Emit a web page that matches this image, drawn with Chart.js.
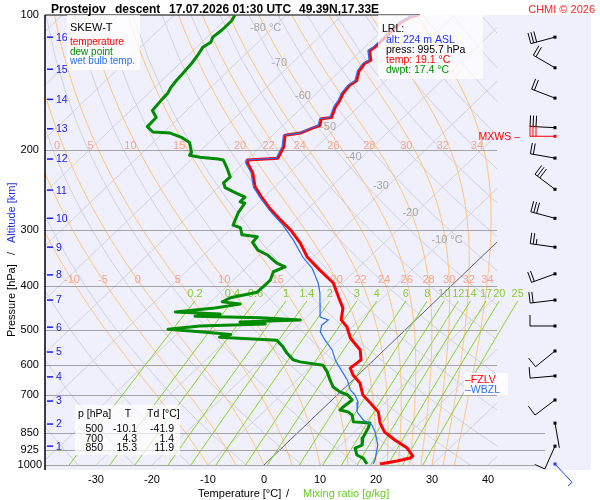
<!DOCTYPE html>
<html>
<head>
<meta charset="utf-8">
<title>Skew-T Prostejov</title>
<script src="https://cdn.jsdelivr.net/npm/chart.js@4.4.1/dist/chart.umd.min.js"></script>
<style>
body{margin:0;background:#fff;}
#wrap{width:600px;height:500px;}
</style>
</head>
<body>
<div id="wrap"><canvas id="myChart" width="600" height="500"></canvas></div>
<script>
// posun izoterm: stupne C na jednu dekadu tlaku
var SKEW = 84;
var FONT = '"Liberation Sans", Arial, Helvetica, sans-serif';

// teplota
var tempP = [100,101,104,114,118,120,126,128,133,140,143,149,155,160,169,170,176,178,183,185,196,208,210,213,224,241,255,269,285,300,321,345,369,394,423,448,476,494,522,555,584,609,631,657,699,728,762,807,845,880,917,955,965,980,995];
var tempT = [-56.5,-57.5,-58.2,-58.2,-58.2,-58.5,-56.5,-57.0,-56.6,-55.2,-55.6,-55.3,-54.5,-54.1,-52.8,-54.4,-53.4,-54.1,-55.5,-57.8,-55.9,-54.8,-59.8,-59.4,-56.6,-53.5,-50.2,-46.9,-42.9,-39.2,-35.0,-31.1,-26.4,-21.6,-18.1,-15.2,-13.3,-10.9,-8.3,-4.3,-2.3,-2.7,-0.9,1.8,4.6,7.4,10.5,12.9,15.4,18.7,22.4,24.9,24.8,23.0,20.5];

// rosny bod
var dewP = [100,103,108,112,115,118,123,128,135,140,145,149,153,163,169,177,182,183,187,192,202,205,207,209,210,219,229,236,242,249,254,260,262,275,293,297,308,311,320,333,341,356,363,372,388,402,413,425,434,439,448,457,462,467,471,476,481,486,491,499,506,513,520,528,547,564,584,590,600,621,647,671,688,699,717,743,755,762,774,802,807,828,871,903,917,950,965,995];
var dewT = [-89.2,-88.7,-88.7,-89.0,-88.4,-88.9,-88.3,-87.9,-87.6,-87.4,-87.1,-86.6,-86.5,-86.1,-84.1,-84.0,-82.0,-78.7,-75.9,-73.5,-71.3,-71.1,-68.9,-65.3,-64.2,-62.0,-59.8,-59.9,-58.7,-55.6,-53.4,-53.4,-52.3,-51.7,-50.3,-48.5,-46.9,-43.8,-43.6,-41.2,-38.7,-35.4,-33.2,-34.4,-33.4,-33.4,-33.5,-37.2,-37.9,-34.3,-38.1,-44.4,-36.0,-40.1,-28.1,-20.6,-31.0,-26.1,-37.4,-42.5,-36.3,-30.3,-31.8,-21.0,-18.6,-16.8,-14.4,-12.8,-8.1,-6.1,-4.1,-2.2,-0.1,1.9,3.6,3.3,3.3,5.1,6.4,7.9,11.1,11.7,12.6,13.8,13.1,14.7,16.4,18.2];

// vlhky teplomer
var wetP = [100,101,104,114,118,120,126,128,133,140,143,149,155,160,169,170,176,178,183,185,196,208,210,213,224,241,255,274,293,316,345,365,394,415,437,469,476,489,506,528,555,584,600,621,647,681,699,724,762,794,815,845,903,940,975,995];
var wetT = [-56.8,-57.8,-58.5,-58.5,-58.5,-58.8,-56.8,-57.3,-56.9,-55.5,-55.9,-55.6,-54.8,-54.4,-53.1,-54.7,-53.7,-54.4,-55.8,-58.1,-56.2,-55.1,-60.1,-59.7,-56.9,-53.8,-50.5,-46.0,-41.4,-36.8,-31.9,-28.2,-24.3,-22.1,-20.2,-17.6,-15.6,-15.8,-14.8,-12.4,-9.3,-6.9,-5.4,-3.4,-1.0,1.4,3.2,5.0,6.7,9.3,11.8,13.7,16.6,17.8,18.9,19.3];

// osy
var tickT = [-30,-20,-10,0,10,20,30,40];
var tickP = [100,200,300,400,500,600,700,850,925,1000];
var kmAlt = [1,2,3,4,5,6,7,8,9,10,11,12,13,14,15,16];
var kmP = [908,811,721,637,561,494,430,378,328,283,245,209,179,154,132,112];

// popisky izoterm
var isoLabelT = [-80,-70,-60,-50,-40,-30,-20,-10];
var isoLabelP = [107,128,151,177,207,240,275,316];
var isoLabelTxt = ['-80 \u00B0C','-70','-60','-50','-40','-30','-20','-10 \u00B0C'];

// vlhke adiabaty a smesovaci pomer
var thetaW = [-10,-5,0,5,10,15,20,22,24,26,28,30,32,34];
var thetaRowP = [195,388];
var mixR = [0.2,0.4,0.6,1,1.4,2,3,4,6,8,10,12,14,17,20,25];
var mixTopP = 432;

// vitr
var windP = [112,131,153,178,208,244,283,328,376,430,491,558,634,717,807,908];
var windDir = [255,300,291,273,280,307,285,278,250,263,270,231,265,233,170,204];
var windSpd = [30,20,20,30,20,30,30,25,20,20,10,10,10,10,3,10];
var mxwsP = 186, mxwsDir = 270, mxwsSpd = 30;
var sfcWindP = 995, sfcWindDir = 137, sfcWindSpd = 5;

// hladiny
var fzlvP = 644, wbzlP = 678;

// tabulka
var tabP = [500,700,850];
var tabT = ['-10.1','4.3','15.3'];
var tabTd = ['-41.9','1.4','11.9'];

// LRL
var lrlTexts = ['alt: 224 m ASL','press: 995.7 hPa','temp: 19.1 \u00B0C','dwpt: 17.4 \u00B0C'];
var lrlColors = ['#2030ff','#000000','#ff0000','#009000'];

function skewX(t, p){ return t + SKEW*Math.log10(1000/p); }
function puntos(P, T){
	var out = [];
	for(var i=0;i<P.length;i++){ out.push({x: skewX(T[i],P[i]), y: P[i]}); }
	return out;
}
function tdFromR(r, p){
	var e = (r/1000)*p/(0.622 + r/1000);
	var g = Math.log(e/6.112);
	return 243.5*g/(17.67-g);
}
function moistLapse(p, T){
	var es = 6.112*Math.exp(17.67*(T-273.15)/(T-29.65));
	var rs = 0.622*es/(p-es);
	return (287.04*T + 2.501e6*rs)/(1005.7 + 2.501e6*2.501e6*rs*0.622/(287.04*T*T))/p;
}
function moistCurve(tw, pEnd){
	var p = 1000, T = tw+273.15, out = [[p,tw]];
	while(p > pEnd+0.01){
		var dp = Math.max(-5, pEnd-p);
		var k1 = moistLapse(p,T), k2 = moistLapse(p+dp/2, T+k1*dp/2);
		T += k2*dp; p += dp;
		out.push([p, T-273.15]);
	}
	return out;
}
function drawBarb(ctx, x0, y0, dir, spd, color){
	var a = dir*Math.PI/180, ux = Math.sin(a), uy = -Math.cos(a);
	var cx = -uy, cy = ux, L = 25;
	ctx.strokeStyle = color; ctx.fillStyle = color; ctx.lineWidth = 1;
	ctx.fillRect(x0-1.5, y0-1.5, 3, 3);
	ctx.beginPath();
	ctx.moveTo(x0, y0); ctx.lineTo(x0+ux*L, y0+uy*L);
	var full = Math.floor(spd/10), half = (spd%10)>=5, d = L;
	for(var i=0;i<full;i++){
		var bx = x0+ux*d, by = y0+uy*d;
		ctx.moveTo(bx, by); ctx.lineTo(bx+11*cx, by+11*cy);
		d -= 3;
	}
	if(half){
		var hx = x0+ux*d, hy = y0+uy*d;
		ctx.moveTo(hx, hy); ctx.lineTo(hx+5.5*cx, hy+5.5*cy);
	}
	ctx.stroke();
}

var skewPlugin = {
	id: 'skewPlugin',
	beforeDraw: function(chart){
		var ctx = chart.ctx, a = chart.chartArea;
		ctx.save();
		ctx.fillStyle = '#f0f0fc';
		ctx.fillRect(a.left, a.top, 591-a.left, 470-a.top);
		ctx.restore();
	},
	beforeDatasetsDraw: function(chart){
		var ctx = chart.ctx, a = chart.chartArea, xs = chart.scales.x, ys = chart.scales.y;
		function X(t,p){ return xs.getPixelForValue(skewX(t,p)); }
		function Y(p){ return ys.getPixelForValue(p); }
		function poly(list){
			ctx.beginPath();
			for(var i=0;i<list.length;i++){
				var q = list[i];
				if(i===0) ctx.moveTo(X(q[1],q[0]), Y(q[0])); else ctx.lineTo(X(q[1],q[0]), Y(q[0]));
			}
			ctx.stroke();
		}
		ctx.save();
		ctx.beginPath(); ctx.rect(a.left, a.top, a.right-a.left, a.bottom-a.top); ctx.clip();
		ctx.lineWidth = 1;
		// izotermy
		ctx.strokeStyle = '#d2d2dc';
		for(var t=-170;t<=40;t+=10){ if(t!==0) poly([[1000,t],[100,t]]); }
		// suche adiabaty
		for(var th=200; th<=470; th+=10){
			var l = [];
			for(var p=1000;p>=100;p-=25) l.push([p, th*Math.pow(p/1000,0.2857)-273.15]);
			poly(l);
		}
		// vlhke adiabaty
		ctx.strokeStyle = '#ffc47a';
		thetaW.forEach(function(tw){ poly(moistCurve(tw,100)); });
		// nulova izoterma
		ctx.strokeStyle = '#60606c';
		poly([[1000,0],[100,0]]);
		ctx.restore();

		// smesovaci pomer
		ctx.save();
		ctx.beginPath(); ctx.rect(a.left, a.top, 600-a.left, a.bottom-a.top); ctx.clip();
		ctx.strokeStyle = '#8cd420'; ctx.lineWidth = 1;
		mixR.forEach(function(r){
			var l = [];
			for(var p=1000;p>mixTopP;p-=25) l.push([p, tdFromR(r,p)]);
			l.push([mixTopP, tdFromR(r,mixTopP)]);
			poly(l);
		});
		ctx.restore();

		// izobary
		ctx.save();
		ctx.lineWidth = 1.2;
		ctx.strokeStyle = '#a4a4a4';
		tickP.forEach(function(p){
			if(p===100) return;
			var y = Math.round(Y(p))+0.5;
			var xr = p>=1000 ? 535 : (p>=850 ? 545 : a.right);
			ctx.beginPath(); ctx.moveTo(a.left, y); ctx.lineTo(xr, y); ctx.stroke();
		});
		ctx.strokeStyle = '#000';
		ctx.beginPath(); ctx.moveTo(a.left, Y(100)); ctx.lineTo(420, Y(100)); ctx.stroke();
		ctx.lineWidth = 1.5;
		ctx.beginPath(); ctx.moveTo(a.left, a.top); ctx.lineTo(a.left, 470); ctx.stroke();
		ctx.restore();

		// popisky
		ctx.save();
		ctx.font = '11px ' + FONT;
		ctx.textBaseline = 'middle';
		ctx.fillStyle = '#a8a8a8';
		ctx.textAlign = 'left';
		var yRef = Y(isoLabelP[isoLabelP.length-1]);
		for(var i=0;i<isoLabelT.length;i++){
			var yl = Y(isoLabelP[i]);
			ctx.fillText(isoLabelTxt[i], X(isoLabelT[i], isoLabelP[i]) - 12 - 0.05*(yRef-yl), yl);
		}
		ctx.fillStyle = '#f5a48c';
		ctx.textAlign = 'center';
		thetaRowP.forEach(function(pr, ri){
			var shift = ri===0 ? -6 : 0;
			thetaW.forEach(function(tw){
				var c = moistCurve(tw, pr), last = c[c.length-1];
				var x = X(last[1], pr) + shift;
				if(x > a.left+5 && x < a.right) ctx.fillText(String(tw), x, Y(pr));
			});
		});
		ctx.fillStyle = '#88cc30';
		mixR.forEach(function(r){
			ctx.fillText(String(r), X(tdFromR(r,mixTopP), mixTopP), Y(mixTopP)-7);
		});
		// km
		ctx.fillStyle = '#1818f0';
		ctx.strokeStyle = '#1818f0';
		ctx.textAlign = 'left';
		ctx.font = '10.5px ' + FONT;
		ctx.lineWidth = 1.5;
		for(var k=0;k<kmAlt.length;k++){
			var yk = Y(kmP[k]);
			ctx.beginPath(); ctx.moveTo(47, yk); ctx.lineTo(53, yk); ctx.stroke();
			ctx.fillText(String(kmAlt[k]), 56, yk+0.5);
		}
		ctx.restore();
	},
	afterDatasetsDraw: function(chart){
		var ctx = chart.ctx, ys = chart.scales.y;
		function Y(p){ return ys.getPixelForValue(p); }
		ctx.save();
		// legenda
		ctx.fillStyle = 'rgba(255,255,255,0.78)';
		ctx.fillRect(67, 15, 73, 55);
		ctx.fillStyle = '#000';
		ctx.font = '11px ' + FONT;
		ctx.textAlign = 'left'; ctx.textBaseline = 'alphabetic';
		ctx.fillText('SKEW-T', 70, 31);
		ctx.font = '10px ' + FONT;
		ctx.fillStyle = '#ff0000'; ctx.fillText('temperature', 70, 45);
		ctx.fillStyle = '#008c00'; ctx.fillText('dew point', 70, 54.5);
		ctx.fillStyle = '#2a70f0'; ctx.fillText('wet bulb temp.', 70, 64);

		// LRL
		ctx.fillStyle = 'rgba(255,255,255,0.72)';
		ctx.fillRect(378, 15, 105, 64);
		ctx.font = '10.5px ' + FONT;
		ctx.fillStyle = '#000'; ctx.fillText('LRL:', 382, 32);
		var ly = [42.5, 53, 63, 72.5];
		for(var i=0;i<lrlTexts.length;i++){
			ctx.fillStyle = lrlColors[i];
			ctx.fillText(lrlTexts[i], 386, ly[i]);
		}

		// tabulka
		ctx.fillStyle = 'rgba(255,255,255,0.7)';
		ctx.fillRect(75, 405, 105, 50);
		ctx.fillStyle = '#000';
		ctx.fillText('p [hPa]', 78, 417);
		ctx.textAlign = 'center'; ctx.fillText('T', 128, 417);
		ctx.textAlign = 'left'; ctx.fillText('Td [\u00B0C]', 147, 417);
		ctx.textAlign = 'right';
		var ry = [432, 441.5, 451];
		for(var j=0;j<tabP.length;j++){
			ctx.fillText(String(tabP[j]), 103, ry[j]);
			ctx.fillText(tabT[j], 137, ry[j]);
			ctx.fillText(tabTd[j], 174, ry[j]);
		}

		// FZLV / WBZL
		ctx.fillStyle = 'rgba(255,255,255,0.85)';
		ctx.fillRect(464, 373, 44, 22);
		ctx.textAlign = 'left';
		ctx.fillStyle = '#ff0000'; ctx.fillText('\u2013FZLV', 465, Y(fzlvP)+4);
		ctx.fillStyle = '#2a70f0'; ctx.fillText('\u2013WBZL', 465, Y(wbzlP)+4);

		// MXWS
		ctx.textAlign = 'right';
		ctx.fillStyle = '#ff0000';
		ctx.fillText('MXWS \u2013', 520, Y(mxwsP)+4);

		// vitr
		for(var w=0;w<windP.length;w++){
			drawBarb(ctx, 555, Y(windP[w]), windDir[w], windSpd[w], '#000');
		}
		drawBarb(ctx, 555, Y(mxwsP), mxwsDir, mxwsSpd, '#ff0000');
		drawBarb(ctx, 555, Y(sfcWindP), sfcWindDir, sfcWindSpd, '#1a3cff');
		ctx.restore();
	},
	afterDraw: function(chart){
		var ctx = chart.ctx;
		ctx.save();
		ctx.textBaseline = 'alphabetic'; ctx.textAlign = 'left';
		ctx.fillStyle = '#000';
		ctx.font = 'bold 12px ' + FONT;
		ctx.fillText('Prostejov', 51, 13);
		ctx.fillText('descent', 115, 13);
		ctx.fillText('17.07.2026 01:30 UTC', 169, 13);
		ctx.fillText('49.39N,17.33E', 299, 13);
		ctx.font = '11px ' + FONT;
		ctx.fillStyle = '#ff2020'; ctx.textAlign = 'right';
		ctx.fillText('CHMI \u00A9 2026', 595, 13);

		// nazvy os
		ctx.textAlign = 'left';
		ctx.fillStyle = '#000';
		ctx.fillText('Temperature [\u00B0C]', 198, 497);
		ctx.fillText('/', 286, 497);
		ctx.fillStyle = '#66cc22';
		ctx.fillText('Mixing ratio [g/kg]', 303, 497);

		ctx.translate(15, 337);
		ctx.rotate(-Math.PI/2);
		ctx.fillStyle = '#000';
		ctx.fillText('Pressure [hPa]', 0, 0);
		ctx.fillText('/', 82, 0);
		ctx.fillStyle = '#2030e0';
		ctx.fillText('Altitude [km]', 94, 0);
		ctx.restore();
	}
};

new Chart(document.getElementById('myChart'), {
	type: 'scatter',
	data: {
		datasets: [
			{ label: 'wet bulb temp.', data: puntos(wetP, wetT), showLine: true, borderColor: '#2a70f0', borderWidth: 1.2, pointRadius: 0, tension: 0 },
			{ label: 'temperature', data: puntos(tempP, tempT), showLine: true, borderColor: '#ff0000', borderWidth: 3, pointRadius: 0, tension: 0, borderJoinStyle: 'round' },
			{ label: 'dew point', data: puntos(dewP, dewT), showLine: true, borderColor: '#008c00', borderWidth: 3, pointRadius: 0, tension: 0, borderJoinStyle: 'round' }
		]
	},
	options: {
		responsive: false,
		animation: false,
		layout: { padding: { left: 0, right: 103, top: 15, bottom: 0 } },
		plugins: { legend: { display: false }, tooltip: { enabled: false }, title: { display: false } },
		scales: {
			x: {
				type: 'linear', min: -39.1, max: 41.6,
				afterBuildTicks: function(s){ s.ticks = tickT.map(function(v){ return {value: v}; }); },
				afterFit: function(s){ s.height = 35; },
				grid: { display: false, drawTicks: false },
				border: { display: false },
				ticks: { padding: 8, color: '#000', font: { size: 11, family: FONT }, callback: function(v){ return String(v); } }
			},
			y: {
				type: 'logarithmic', reverse: true, min: 100, max: 1000,
				afterBuildTicks: function(s){ s.ticks = tickP.map(function(v){ return {value: v}; }); },
				afterFit: function(s){ s.width = 45; },
				grid: { display: false, drawTicks: false },
				border: { display: false },
				ticks: { padding: 3, crossAlign: 'center', color: '#000', font: { size: 11, family: FONT }, callback: function(v){ return String(v); } }
			}
		}
	},
	plugins: [skewPlugin]
});
</script>
</body>
</html>
